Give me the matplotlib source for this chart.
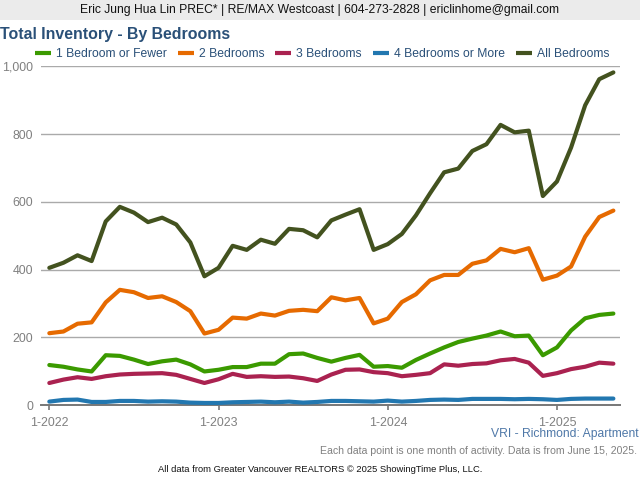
import matplotlib
matplotlib.use("Agg")
import matplotlib.pyplot as plt
from matplotlib.patches import Rectangle

plt.rcParams['font.family'] = ['Liberation Sans', 'DejaVu Sans']

months = list(range(41))
tick_pos = [0, 12, 24, 36]
tick_labels = ['1-2022', '1-2023', '1-2024', '1-2025']
y_ticks = [0, 200, 400, 600, 800, 1000]
y_labels = ['0', '200', '400', '600', '800', '1,000']

one_bed = [118,113,105,99,147,145,134,121,129,134,120,99,104,112,112,122,122,150,152,139,128,139,148,113,115,110,133,152,170,186,196,205,217,203,205,147,170,220,256,266,270]
two_bed = [212,217,240,244,303,340,333,316,321,304,277,211,222,258,255,270,264,278,281,277,318,309,316,241,255,304,327,368,384,384,417,427,461,451,463,370,382,409,497,555,574]
three_bed = [65,75,82,77,85,90,92,93,94,89,77,65,76,92,83,85,83,84,79,71,90,104,105,97,94,85,89,94,120,116,121,123,132,136,125,86,94,106,113,125,122]
four_bed = [10,15,16,9,9,12,12,10,11,10,7,6,6,8,9,10,8,10,7,9,12,12,11,10,13,10,12,15,16,15,18,18,18,17,18,17,15,18,19,19,19]
all_bed = [405,420,442,425,542,585,568,540,553,533,480,380,405,470,458,488,476,520,516,495,545,562,578,458,475,505,560,625,687,698,750,770,827,805,810,617,660,760,885,962,982]

series = [('1 Bedroom or Fewer', one_bed, '#3b9a00'),
          ('2 Bedrooms', two_bed, '#e66a00'),
          ('3 Bedrooms', three_bed, '#aa2250'),
          ('4 Bedrooms or More', four_bed, '#2277b0'),
          ('All Bedrooms', all_bed, '#43521f')]

W, H = 640, 480
fig = plt.figure(figsize=(W/100, H/100), dpi=100, facecolor='white')

def fx(p): return p / W
def fy(p): return 1 - p / H

fig.add_artist(Rectangle((0, fy(20)), 1, 20/H, transform=fig.transFigure,
                         facecolor='#ebebeb', edgecolor='none'))
fig.text(0.5, fy(10.5), 'Eric Jung Hua Lin PREC* | RE/MAX Westcoast | 604-273-2828 | ericlinhome@gmail.com',
         ha='center', va='center', fontsize=8.7, color='#111111')
fig.text(fx(0), fy(34.5), 'Total Inventory - By Bedrooms', ha='left', va='center',
         fontsize=11.45, fontweight='bold', color='#2a5078')

ax = fig.add_axes([fx(41), fy(405), (620-41)/W, (405-66.3)/H])
ax.set_xlim(-0.59, 40.47)
ax.set_ylim(0, 1000)
for s in ax.spines.values():
    s.set_visible(False)
ax.spines['bottom'].set_visible(True)
ax.spines['bottom'].set_color('#777777')
ax.spines['bottom'].set_linewidth(1.4)
ax.yaxis.grid(True, color='#aaaaaa', linewidth=1.0)
ax.set_axisbelow(True)
ax.set_yticks(y_ticks)
ax.set_yticklabels(y_labels)
ax.set_xticks(tick_pos)
ax.set_xticklabels(tick_labels)
ax.tick_params(axis='y', length=0, pad=5.5, labelsize=8.9, labelcolor='#808080')
ax.tick_params(axis='x', length=3.5, width=1.2, color='#777777', pad=5,
               labelsize=8.9, labelcolor='#808080')

handles = []
for name, vals, col in series:
    h, = ax.plot(months, vals, color=col, linewidth=3.0, label=name,
                 solid_joinstyle='round', solid_capstyle='round', clip_on=False, zorder=3)
    handles.append(h)

leg = fig.legend(handles=handles, loc='center left', bbox_to_anchor=(fx(35), fy(54)),
                 ncol=5, frameon=False, fontsize=8.7, handlelength=1.32, handletextpad=0.41,
                 columnspacing=0.91, borderpad=0, borderaxespad=0)
for t in leg.get_texts():
    t.set_color('#2a5078')
for h in leg.get_lines():
    h.set_solid_capstyle('butt')

fig.text(fx(639), fy(434.5), 'VRI - Richmond: Apartment', ha='right', va='center',
         fontsize=8.75, color='#4f78a8')
fig.text(fx(637), fy(451), 'Each data point is one month of activity. Data is from June 15, 2025.',
         ha='right', va='center', fontsize=7.53, color='#808080')
fig.text(fx(158), fy(469.5), 'All data from Greater Vancouver REALTORS © 2025 ShowingTime Plus, LLC.',
         ha='left', va='center', fontsize=6.76, color='#111111')

fig.savefig('out.png', dpi=100)
